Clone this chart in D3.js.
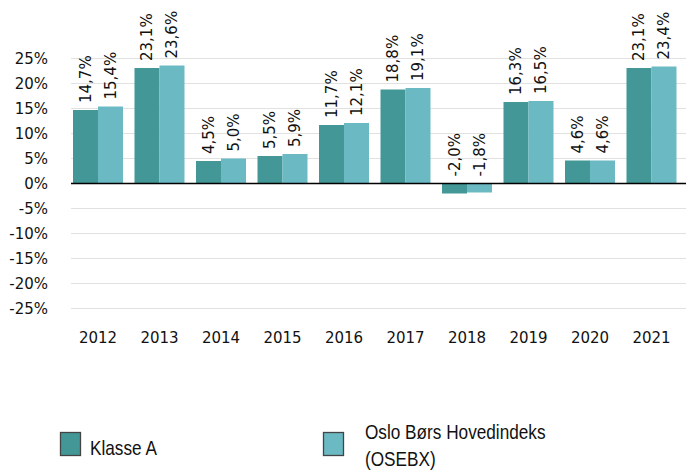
<!DOCTYPE html>
<html>
<head>
<meta charset="utf-8">
<script src="https://cdn.jsdelivr.net/npm/d3@7"></script>
<style>
  body { margin: 0; background: #fff; }
</style>
</head>
<body>
<div id="chart"></div>
<script>
var years = ["2012", "2013", "2014", "2015", "2016", "2017", "2018", "2019", "2020", "2021"];
var klasseA = [14.7, 23.1, 4.5, 5.5, 11.7, 18.8, -2.0, 16.3, 4.6, 23.1];
var osebx = [15.4, 23.6, 5.0, 5.9, 12.1, 19.1, -1.8, 16.5, 4.6, 23.4];
var seriesNames = ["Klasse A", "Oslo Børs Hovedindeks (OSEBX)"];
var colors = ["#439797", "#6bb9c3"];
var yTicks = [-25, -20, -15, -10, -5, 0, 5, 10, 15, 20, 25];

var width = 686, height = 471;

var svg = d3.select("#chart")
    .append("svg")
    .attr("width", width)
    .attr("height", height);

var y = d3.scaleLinear()
    .domain([-25, 25])
    .range([308.5, 58.5]);

var x = d3.scaleBand()
    .domain(years)
    .range([67.25, 682.25])
    .paddingInner(0.187)
    .paddingOuter(0.0935);

var x1 = d3.scaleBand()
    .domain([0, 1])
    .range([0, x.bandwidth()]);

var fmt = function(v) { return v.toFixed(1).replace(".", ",") + "%"; };

// gridlines
svg.append("g")
    .selectAll("line")
    .data(yTicks.filter(function(d) { return d !== 0; }))
    .enter()
    .append("line")
    .attr("x1", 71).attr("x2", width)
    .attr("y1", function(d) { return y(d); })
    .attr("y2", function(d) { return y(d); })
    .attr("stroke", "#e1e1e1")
    .attr("stroke-width", 1);

// y tick labels
svg.append("g")
    .selectAll("text")
    .data(yTicks)
    .enter()
    .append("text")
    .attr("x", 48)
    .attr("y", function(d) { return y(d); })
    .attr("dy", "0.36em")
    .attr("text-anchor", "end")
    .attr("font-family", "DejaVu Sans")
    .attr("font-size", 15)
    .attr("fill", "#111")
    .text(function(d) { return d + "%"; });

// bars
var series = [klasseA, osebx];
var groups = svg.append("g")
    .selectAll("g")
    .data(years)
    .enter()
    .append("g")
    .attr("transform", function(d) { return "translate(" + x(d) + ",0)"; });

groups.selectAll("rect")
    .data(function(d, i) { return series.map(function(s, k) { return {k: k, v: s[i]}; }); })
    .enter()
    .append("rect")
    .attr("x", function(d) { return x1(d.k); })
    .attr("width", x1.bandwidth())
    .attr("y", function(d) { return Math.min(y(d.v), y(0)); })
    .attr("height", function(d) { return Math.abs(y(d.v) - y(0)); })
    .attr("fill", function(d) { return colors[d.k]; });

groups.selectAll("text")
    .data(function(d, i) { return series.map(function(s, k) { return {k: k, v: s[i]}; }); })
    .enter()
    .append("text")
    .attr("transform", function(d) {
        var tx = x1(d.k) + x1.bandwidth() / 2;
        var ty = Math.min(y(d.v), y(0)) - 7;
        return "translate(" + tx + "," + ty + ") rotate(-90)";
    })
    .attr("dy", "0.36em")
    .attr("font-family", "DejaVu Sans")
    .attr("font-size", 15)
    .attr("fill", "#111")
    .text(function(d) { return fmt(d.v); });

// zero line
svg.append("line")
    .attr("x1", 71).attr("x2", width)
    .attr("y1", y(0)).attr("y2", y(0))
    .attr("stroke", "#000")
    .attr("stroke-width", 1.5);

// x labels
svg.append("g")
    .selectAll("text")
    .data(years)
    .enter()
    .append("text")
    .attr("x", function(d) { return x(d) + x.bandwidth() / 2; })
    .attr("y", 343)
    .attr("text-anchor", "middle")
    .attr("font-family", "DejaVu Sans")
    .attr("font-size", 15)
    .attr("fill", "#111")
    .text(function(d) { return d; });

// legend (narrow sans look, squeezed horizontally)
var legend = [
    {x: 60, tx: 90, lines: ["Klasse A"], ty: 455},
    {x: 323, tx: 365, lines: ["Oslo Børs Hovedindeks", "(OSEBX)"], ty: 439}
];
legend.forEach(function(l, i) {
    svg.append("rect")
        .attr("x", l.x + 0.5).attr("y", 432.5)
        .attr("width", 20).attr("height", 23)
        .attr("fill", colors[i])
        .attr("stroke", "#444")
        .attr("stroke-width", 1.3);
    var t = svg.append("text")
        .attr("transform", "translate(" + l.tx + "," + l.ty + ") scale(0.86,1)")
        .attr("font-family", "'Liberation Sans', Arial")
        .attr("font-size", 20)
        .attr("fill", "#111");
    l.lines.forEach(function(s, j) {
        t.append("tspan").attr("x", 0).attr("y", j * 27).text(s);
    });
});
</script>
</body>
</html>
